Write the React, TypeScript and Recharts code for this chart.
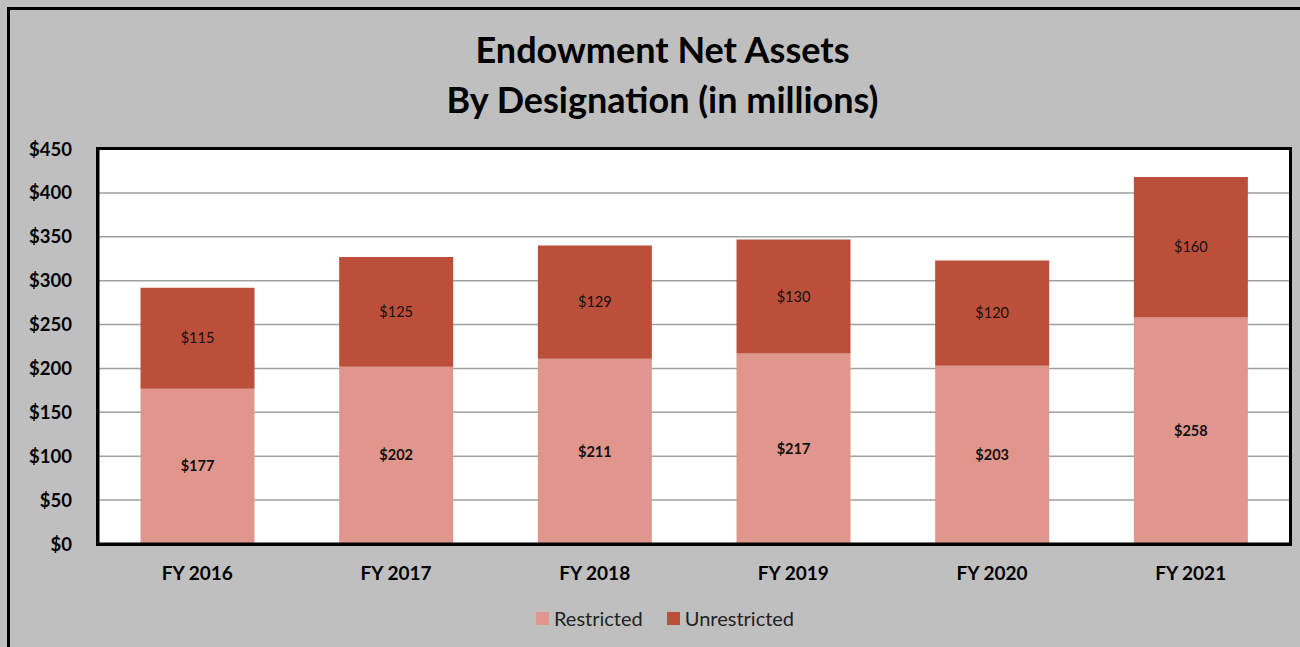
import React from 'react';
import { BarChart, Bar, XAxis, YAxis, CartesianGrid, Legend, LabelList } from 'recharts';

const categories = ['FY 2016', 'FY 2017', 'FY 2018', 'FY 2019', 'FY 2020', 'FY 2021'];
const restricted = [177, 202, 211, 217, 203, 258];
const unrestricted = [115, 125, 129, 130, 120, 160];
const yTicks = [0, 50, 100, 150, 200, 250, 300, 350, 400, 450];

const data = categories.map((name, i) => ({ name, Restricted: restricted[i], Unrestricted: unrestricted[i] }));

const RESTRICTED_COLOR = '#E0958D';
const UNRESTRICTED_COLOR = '#BB4F3A';
const FONT = 'Lato, "Open Sans", sans-serif';

const renderLegend = (props: any) => {
  const { payload } = props;
  return (
    <div style={{ height: 30, display: 'flex', justifyContent: 'center', alignItems: 'center', fontFamily: FONT, fontSize: 20, color: '#222', paddingLeft: 38 }}>
      {payload.map((p: any, i: number) => (
        <div key={i} style={{ display: 'flex', alignItems: 'center', marginLeft: i === 0 ? 0 : 24 }}>
          <div style={{ width: 13, height: 13, background: p.color, marginRight: 5 }} />
          <span>{p.value}</span>
        </div>
      ))}
    </div>
  );
};

export default function App() {
  return (
    <div style={{ position: 'absolute', left: 0, top: 0, width: 1300, height: 647, background: '#BFBFBF', overflow: 'hidden' }}>
      <div style={{ position: 'absolute', left: 7, top: 7, width: 1400, height: 700, borderLeft: '3px solid #000', borderTop: '3px solid #000' }} />
      <div style={{ position: 'absolute', left: 0, top: 24, width: 1325, textAlign: 'center', fontFamily: FONT, fontWeight: 700, fontSize: 36, lineHeight: '50px', color: '#000' }}>
        <div>Endowment Net Assets</div>
        <div>By Designation (in millions)</div>
      </div>
      <div style={{ position: 'absolute', left: 0, top: 0 }}>
        <BarChart
          width={1300}
          height={647}
          data={data}
          margin={{ top: 149, right: 10, left: 2, bottom: 14 }}
          barCategoryGap="21.4%"
        >
          <CartesianGrid vertical={false} stroke="#A0A0A0" strokeWidth={1.5} fill="#FFFFFF" />
          <XAxis
            dataKey="name"
            height={59}
            tickSize={0}
            tickMargin={23}
            axisLine={{ stroke: '#000', strokeWidth: 3 }}
            tick={{ fill: '#000', fontFamily: FONT, fontWeight: 700, fontSize: 19 }}
          />
          <YAxis
            width={96}
            domain={[0, 450]}
            ticks={yTicks}
            interval={0}
            tickSize={0}
            tickMargin={26}
            tickFormatter={(v: number) => `$${v}`}
            axisLine={{ stroke: '#000', strokeWidth: 3 }}
            tick={{ fill: '#000', fontFamily: FONT, fontWeight: 700, fontSize: 18.5 }}
          />
          <Legend verticalAlign="bottom" content={renderLegend} />
          <Bar dataKey="Restricted" stackId="a" fill={RESTRICTED_COLOR} isAnimationActive={false}>
            <LabelList
              dataKey="Restricted"
              position="center"
              formatter={(v: any) => `$${v}`}
              style={{ fill: '#111', fontFamily: FONT, fontWeight: 700, fontSize: 14.5 }}
            />
          </Bar>
          <Bar dataKey="Unrestricted" stackId="a" fill={UNRESTRICTED_COLOR} isAnimationActive={false}>
            <LabelList
              dataKey="Unrestricted"
              position="center"
              formatter={(v: any) => `$${v}`}
              style={{ fill: '#111', fontFamily: FONT, fontWeight: 400, fontSize: 14.5 }}
            />
          </Bar>
        </BarChart>
      </div>
      <div style={{ position: 'absolute', left: 96, top: 147, width: 1196, height: 399, border: '3px solid #000', boxSizing: 'border-box', pointerEvents: 'none' }} />
    </div>
  );
}
